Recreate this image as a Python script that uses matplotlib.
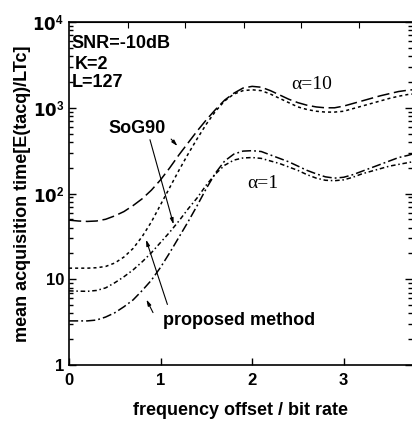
import numpy as np
import matplotlib

matplotlib.use("Agg")
import matplotlib.pyplot as plt
from matplotlib.ticker import FixedLocator, FuncFormatter, LogLocator, NullFormatter

plt.rcParams["font.family"] = ["Liberation Sans", "DejaVu Sans"]
plt.rcParams["font.weight"] = "bold"
plt.rcParams["axes.labelweight"] = "bold"
plt.rcParams["mathtext.default"] = "regular"

# frequency offset / bit rate
offset = [0.0, 0.1, 0.2, 0.3, 0.4, 0.5, 0.6, 0.7, 0.8, 0.9,
          1.0, 1.1, 1.2, 1.3, 1.4, 1.5, 1.6, 1.7, 1.8, 1.9,
          2.0, 2.1, 2.2, 2.3, 2.4, 2.5, 2.6, 2.7, 2.8, 2.9,
          3.0, 3.1, 3.2, 3.3, 3.4, 3.5, 3.6, 3.7, 3.75]

# log10 of mean acquisition time
sog90_a10 = [1.69, 1.68, 1.675, 1.68, 1.70, 1.74, 1.79, 1.86, 1.94, 2.04,
             2.16, 2.30, 2.45, 2.59, 2.73, 2.86, 2.98, 3.09, 3.17, 3.23,
             3.25, 3.24, 3.20, 3.15, 3.10, 3.06, 3.03, 3.01, 3.00, 3.00,
             3.02, 3.05, 3.08, 3.11, 3.14, 3.165, 3.19, 3.205, 3.21]
proposed_a10 = [1.13, 1.13, 1.13, 1.135, 1.15, 1.19, 1.26, 1.36, 1.50, 1.67,
                1.87, 2.07, 2.27, 2.46, 2.64, 2.81, 2.96, 3.08, 3.16, 3.20,
                3.21, 3.20, 3.16, 3.11, 3.06, 3.01, 2.98, 2.96, 2.95, 2.95,
                2.96, 2.99, 3.02, 3.05, 3.08, 3.11, 3.135, 3.155, 3.16]
sog90_a1 = [0.865, 0.862, 0.86, 0.87, 0.90, 0.96, 1.03, 1.11, 1.205, 1.31,
            1.43, 1.55, 1.68, 1.82, 1.95, 2.10, 2.23, 2.33, 2.39, 2.415,
            2.42, 2.41, 2.38, 2.35, 2.31, 2.27, 2.22, 2.18, 2.155, 2.15,
            2.16, 2.19, 2.23, 2.26, 2.29, 2.32, 2.34, 2.36, 2.37]
proposed_a1 = [0.515, 0.515, 0.515, 0.525, 0.56, 0.61, 0.68, 0.76, 0.87, 0.99,
               1.14, 1.31, 1.49, 1.67, 1.86, 2.06, 2.24, 2.38, 2.46, 2.495,
               2.50, 2.49, 2.45, 2.41, 2.37, 2.32, 2.27, 2.23, 2.195, 2.18,
               2.19, 2.22, 2.26, 2.30, 2.34, 2.38, 2.42, 2.445, 2.46]

x_ticks = [0, 1, 2, 3]
top_ticks = [0.646, 1.27, 1.906, 2.53, 3.165]
y_ticks = [1, 10, 100, 1000, 10000]


def log_label(v, pos):
    if v == 1:
        return "1"
    if v == 10:
        return "10"
    return r"$\mathbf{10}^{%d}$" % round(np.log10(v))


fig = plt.figure(figsize=(4.12, 4.24), dpi=100)
ax = fig.add_axes([0.1675, 0.139, 0.8325, 0.809])

x = np.array(offset)
ax.plot(x, 10 ** np.array(sog90_a10), color="black", lw=1.1, dashes=(8, 3))
ax.plot(x, 10 ** np.array(proposed_a10), color="black", lw=1.1, dashes=(2, 2))
ax.plot(x, 10 ** np.array(sog90_a1), color="black", lw=1.1, dashes=(3, 1.8, 1, 1.8))
ax.plot(x, 10 ** np.array(proposed_a1), color="black", lw=1.1, dashes=(6, 2, 1.2, 2))

ax.set_yscale("log")
ax.set_xlim(0, 3.746)
ax.set_ylim(1, 10000)
ax.xaxis.set_major_locator(FixedLocator(x_ticks))
ax.yaxis.set_major_locator(FixedLocator(y_ticks))
ax.yaxis.set_minor_locator(LogLocator(base=10, subs=np.arange(2, 10)))
ax.yaxis.set_minor_formatter(NullFormatter())
ax.yaxis.set_major_formatter(FuncFormatter(log_label))

ax.tick_params(which="both", direction="in", right=True, labelsize=12, width=1)
ax.tick_params(which="major", length=5)
ax.tick_params(which="minor", length=3)
ax.tick_params(axis="x", pad=6)
for s in ax.spines.values():
    s.set_linewidth(1.2)
ax.spines["right"].set_visible(False)

top = ax.secondary_xaxis("top")
top.set_xticks(top_ticks)
top.tick_params(direction="in", length=4, labeltop=False)

ax.set_xlabel("frequency offset / bit rate", fontsize=13, labelpad=10)
ax.set_ylabel("mean acquisition time[E(tacq)/LTc]", fontsize=13, labelpad=1)

ax.text(0.03, 10 ** 3.75, "SNR=-10dB", fontsize=13, va="center")
ax.text(0.06, 10 ** 3.51, "K=2", fontsize=13, va="center")
ax.text(0.03, 10 ** 3.30, "L=127", fontsize=13, va="center")

ax.text(0.745, 10 ** 2.764, "SoG90", fontsize=13, ha="center", va="center")
ax.text(1.03, 10 ** 0.525, "proposed method", fontsize=13, ha="left", va="center")
ax.text(2.65, 10 ** 3.277, "α=10", fontsize=14, family="Liberation Serif",
        weight="normal", ha="center", va="center")
ax.text(2.114, 10 ** 2.122, "α=1", fontsize=14, family="Liberation Serif",
        weight="normal", ha="center", va="center")

arrow = dict(arrowstyle="-|>,head_length=0.35,head_width=0.1", color="black", lw=0.8)
ax.annotate("", xy=(1.205, 10 ** 2.53), xytext=(1.095, 10 ** 2.659), arrowprops=arrow)
ax.annotate("", xy=(1.15, 10 ** 1.609), xytext=(0.876, 10 ** 2.659), arrowprops=arrow)
ax.annotate("", xy=(0.832, 10 ** 1.493), xytext=(1.084, 10 ** 0.676), arrowprops=arrow)
ax.annotate("", xy=(0.832, 10 ** 0.793), xytext=(0.931, 10 ** 0.583), arrowprops=arrow)

fig.savefig("out.png", dpi=100)
